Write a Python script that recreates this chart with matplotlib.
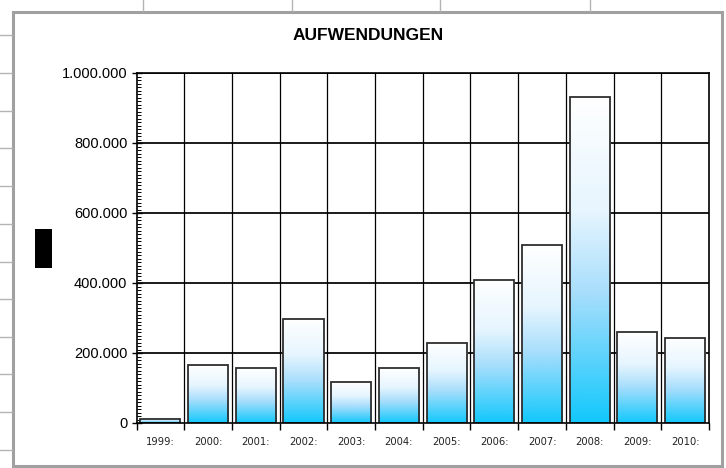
import matplotlib
matplotlib.use("Agg")
import matplotlib.pyplot as plt
import numpy as np
from matplotlib.colors import LinearSegmentedColormap
from matplotlib.patches import Rectangle
from matplotlib.lines import Line2D
from matplotlib.ticker import MultipleLocator, FuncFormatter

# ---- data ----
years = ["1999:", "2000:", "2001:", "2002:", "2003:", "2004:", "2005:",
         "2006:", "2007:", "2008:", "2009:", "2010:"]
values = [12000, 165000, 157000, 298000, 118000, 157000, 230000,
          410000, 508000, 931000, 260000, 243000]
title = "AUFWENDUNGEN"
ymax = 1000000
ystep = 200000

W, H = 726, 468
fig = plt.figure(figsize=(W / 100, H / 100), dpi=100)
fig.patch.set_facecolor("white")

# spreadsheet background lines outside the chart frame
for yp in [35, 73, 111, 148, 186, 224, 262, 299, 337, 374, 412, 450]:
    fig.add_artist(Line2D([0, 12 / W], [1 - yp / H, 1 - yp / H],
                          transform=fig.transFigure, color="#b4b4b4", lw=1.0))
for xp in [143, 292, 440, 590]:
    fig.add_artist(Line2D([xp / W, xp / W], [1, 1 - 11 / H],
                          transform=fig.transFigure, color="#b4b4b4", lw=1.0))

# chart frame
fig.add_artist(Rectangle((12.5 / W, 1 - 465.5 / H), (722 - 12.5) / W, (465.5 - 11.5) / H,
                         transform=fig.transFigure, facecolor="none",
                         edgecolor="#a0a0a0", lw=2.2))

# black box (axis title placeholder)
fig.add_artist(Rectangle((35 / W, 1 - 268 / H), 17 / W, 39 / H,
                         transform=fig.transFigure, facecolor="black", edgecolor="none"))

ax = fig.add_axes([136.5 / W, 1 - 423 / H, (709 - 136.5) / W, (423 - 73) / H])
ax.set_facecolor("white")
n = len(years)

# grid lines
for yv in np.arange(ystep, ymax + 1, ystep):
    ax.axhline(yv, color="#1a1a1a", lw=1.4, zorder=1)
for xb in np.arange(0.5, n - 0.5, 1.0):
    ax.axvline(xb, color="black", lw=0.9, zorder=1)

cmap = LinearSegmentedColormap.from_list(
    "g", [(0.0, "#ffffff"), (0.35, "#e6f5fe"), (0.6, "#a8defc"), (1.0, "#12c8fc")])
grad = np.linspace(0, 1, 256).reshape(-1, 1)

bw = 0.84
for i, v in enumerate(values):
    x0 = i - bw / 2
    ax.imshow(grad, cmap=cmap, extent=[x0, x0 + bw, 0, v], origin="upper",
              aspect="auto", zorder=2, interpolation="bilinear")
    ax.add_patch(Rectangle((x0, 0), bw, v, facecolor="none",
                           edgecolor="#2e2e2e", lw=1.3, zorder=3))
ax.set_xlim(-0.5, n - 0.5)
ax.set_ylim(0, ymax)

for s in ax.spines.values():
    s.set_color("black")
    s.set_linewidth(1.2)
    s.set_zorder(4)

ax.yaxis.set_major_locator(MultipleLocator(ystep))
ax.yaxis.set_minor_locator(MultipleLocator(10000))
ax.yaxis.set_major_formatter(FuncFormatter(lambda v, p: f"{int(v):,}".replace(",", ".")))
ax.tick_params(axis="y", which="major", direction="inout", length=7, width=1.0,
               labelsize=10.5, pad=3, colors="black")
ax.tick_params(axis="y", which="minor", direction="in", length=3, width=0.7)
for lab in ax.get_yticklabels():
    lab.set_family("Liberation Sans")

ax.set_xticks(np.arange(n))
ax.set_xticklabels(years, family="DejaVu Sans", fontsize=7.2, color="#222222")
ax.tick_params(axis="x", which="major", length=0, pad=10)
ax.set_xticks(np.arange(-0.5, n, 1.0), minor=True)
ax.tick_params(axis="x", which="minor", direction="out", length=5, width=1.0)

fig.text(368 / W, 1 - 35 / H, title, ha="center", va="center",
         family="Liberation Sans", fontweight="bold", fontsize=12.5)

fig.savefig("out.png", dpi=100, facecolor="white")
